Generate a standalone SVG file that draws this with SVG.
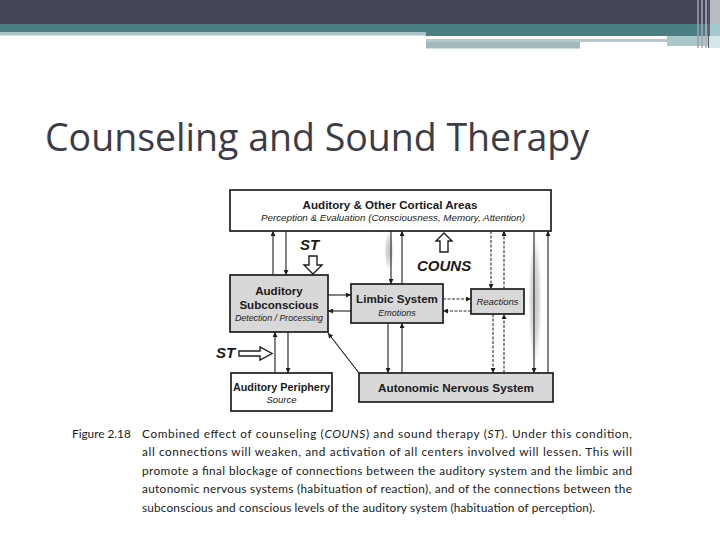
<svg xmlns="http://www.w3.org/2000/svg" width="720" height="540" viewBox="0 0 720 540">
<defs>
<style>
.box{stroke:#1e1e1e;stroke-width:1.7}
.w{fill:#ffffff}
.g{fill:#d8d8d8}
.lb{font-family:"Liberation Sans",Arial,sans-serif;font-weight:bold;fill:#1a1a1a;text-anchor:middle}
.it{font-family:"Liberation Sans",Arial,sans-serif;font-style:italic;fill:#1a1a1a;text-anchor:middle}
.bi{font-family:"Liberation Sans",Arial,sans-serif;font-style:italic;font-weight:bold;fill:#1a1a1a}
.ln{fill:none;stroke:#1e1e1e;stroke-width:1.1}
.ds{fill:none;stroke:#2a2a2a;stroke-width:1.1;stroke-dasharray:3 1.5}
.hol{fill:#ffffff;stroke:#1e1e1e;stroke-width:1.4;stroke-linejoin:miter}
.cap{font-family:Lato,"Liberation Sans",sans-serif;font-size:11.8px;fill:#1a1a1a}
</style>
<marker id="ah" viewBox="0 0 10 10" refX="10" refY="5" markerWidth="6" markerHeight="5" markerUnits="userSpaceOnUse" orient="auto">
<path d="M0,0 L10,5 L0,10 z" fill="#1e1e1e"/>
</marker>
<radialGradient id="sh" cx="0.5" cy="0.5" r="0.5">
<stop offset="0" stop-color="#c4c4c4"/>
<stop offset="0.6" stop-color="#dcdcdc"/>
<stop offset="1" stop-color="#f0f0f0" stop-opacity="0"/>
</radialGradient>
</defs>
<rect width="720" height="540" fill="#ffffff"/>
<g id="header">
<rect x="0" y="0" width="720" height="24" fill="#434456"/>
<rect x="0" y="24" width="720" height="8" fill="#4a7f84"/>
<rect x="0" y="32" width="426" height="3.5" fill="#a8c2c5"/>
<rect x="426" y="32" width="294" height="4" fill="#4a7f84"/>
<rect x="426" y="39" width="241" height="3" fill="#b3c9cb"/>
<rect x="426" y="42" width="154" height="6.5" fill="#a3b8ba"/>
<rect x="667" y="36" width="42" height="10" fill="#a9c6c9"/>
<rect x="697" y="0" width="2" height="48" fill="#9c9cab" opacity="0.8"/>
<rect x="701" y="0" width="2" height="48" fill="#a6a6b4" opacity="0.8"/>
<rect x="705" y="0" width="2" height="48" fill="#b0b0bc" opacity="0.8"/>
<rect x="708" y="0" width="1.2" height="48" fill="#5a5a6a"/>
<rect x="710" y="0" width="10" height="24" fill="#babac3"/>
<rect x="710" y="24" width="10" height="12" fill="#a3c9cd"/>
<rect x="710" y="36" width="10" height="12" fill="#d6e7e9"/>
</g>
<text id="title" x="45" y="151" font-family="'Open Sans','Noto Sans',sans-serif" font-size="37.5" fill="#3c3c48">Counseling and Sound Therapy</text>
<g id="shading">
<ellipse cx="389" cy="251" rx="5" ry="20" fill="url(#sh)"/>
<ellipse cx="535" cy="300" rx="7" ry="70" fill="url(#sh)"/>
</g>
<g id="connectors">
<path class="ln" d="M273,275 V231" marker-end="url(#ah)"/>
<path class="ln" d="M286,231 V275" marker-end="url(#ah)"/>
<path class="ln" d="M391,231 V284" marker-end="url(#ah)"/>
<path class="ln" d="M402,284 V231" marker-end="url(#ah)"/>
<path class="ln" d="M328,295 H351" marker-end="url(#ah)"/>
<path class="ln" d="M351,311 H328" marker-end="url(#ah)"/>
<path class="ln" d="M388,323 V373" marker-end="url(#ah)"/>
<path class="ln" d="M402,373 V323" marker-end="url(#ah)"/>
<path class="ln" d="M275,373 V332" marker-end="url(#ah)"/>
<path class="ln" d="M288,332 V373" marker-end="url(#ah)"/>
<path class="ln" d="M359,373 L328,333" marker-end="url(#ah)"/>
<path class="ln" d="M534,231 V373" marker-end="url(#ah)"/>
<path class="ln" d="M548,373 V231" marker-end="url(#ah)"/>
<path class="ds" d="M491,231 V289" marker-end="url(#ah)"/>
<path class="ds" d="M504,289 V231" marker-end="url(#ah)"/>
<path class="ds" d="M443,299 H471" marker-end="url(#ah)"/>
<path class="ds" d="M471,311 H443" marker-end="url(#ah)"/>
<path class="ds" d="M493,314 V373" marker-end="url(#ah)"/>
<path class="ds" d="M504,373 V314" marker-end="url(#ah)"/>
</g>
<g id="cortical">
<rect class="box w" x="230" y="190" width="321" height="41"/>
<text class="lb" x="390" y="209" font-size="11.6">Auditory &amp; Other Cortical Areas</text>
<text class="it" x="393" y="220.5" font-size="9.8">Perception &amp; Evaluation (Consciousness, Memory, Attention)</text>
</g>
<g id="subconscious">
<rect class="box g" x="230" y="275" width="98" height="57"/>
<text class="lb" x="279" y="295" font-size="11.6">Auditory</text>
<text class="lb" x="279" y="309" font-size="11.6">Subconscious</text>
<text class="it" x="279" y="321" font-size="8.8">Detection / Processing</text>
</g>
<g id="limbic">
<rect class="box g" x="351" y="284" width="92" height="39"/>
<text class="lb" x="397" y="303" font-size="11.6">Limbic System</text>
<text class="it" x="397" y="316" font-size="9">Emotions</text>
</g>
<g id="reactions">
<rect class="box g" x="471" y="289" width="53" height="25"/>
<text class="it" x="497.5" y="304.5" font-size="9.5">Reactions</text>
</g>
<g id="ans">
<rect class="box g" x="359" y="373" width="194" height="29"/>
<text class="lb" x="456" y="392" font-size="11.7">Autonomic Nervous System</text>
</g>
<g id="periphery">
<rect class="box w" x="231" y="373" width="101" height="38"/>
<text class="lb" x="281.5" y="391" font-size="10.8">Auditory Periphery</text>
<text class="it" x="281.5" y="403" font-size="9.5">Source</text>
</g>
<g id="st-top">
<text class="bi" x="300" y="250" font-size="15">ST</text>
<polygon class="hol" points="309,256 317,256 317,265 322,265 313,274 304,265 309,265"/>
</g>
<g id="couns">
<polygon class="hol" points="440,252 448,252 448,241 452,241 444,233 436,241 440,241"/>
<text class="bi" x="417" y="271" font-size="15">COUNS</text>
</g>
<g id="st-bottom">
<text class="bi" x="216" y="358" font-size="15">ST</text>
<polygon class="hol" points="239,351 260,351 260,347 272,353.5 260,360 260,356 239,356"/>
</g>
<g id="caption">
<text class="cap" x="72" y="437.5">Figure 2.18</text>
<text class="cap" x="142" y="437.5" textLength="490" lengthAdjust="spacing">Combined effect of counseling (<tspan font-style="italic">COUNS</tspan>) and sound therapy (<tspan font-style="italic">ST</tspan>). Under this condition,</text>
<text class="cap" x="142" y="456" textLength="490" lengthAdjust="spacing">all connections will weaken, and activation of all centers involved will lessen. This will</text>
<text class="cap" x="142" y="474.5" textLength="490" lengthAdjust="spacing">promote a final blockage of connections between the auditory system and the limbic and</text>
<text class="cap" x="142" y="493" textLength="490" lengthAdjust="spacing">autonomic nervous systems (habituation of reaction), and of the connections between the</text>
<text class="cap" x="142" y="511.5" textLength="453" lengthAdjust="spacing">subconscious and conscious levels of the auditory system (habituation of perception).</text>
</g>
</svg>
